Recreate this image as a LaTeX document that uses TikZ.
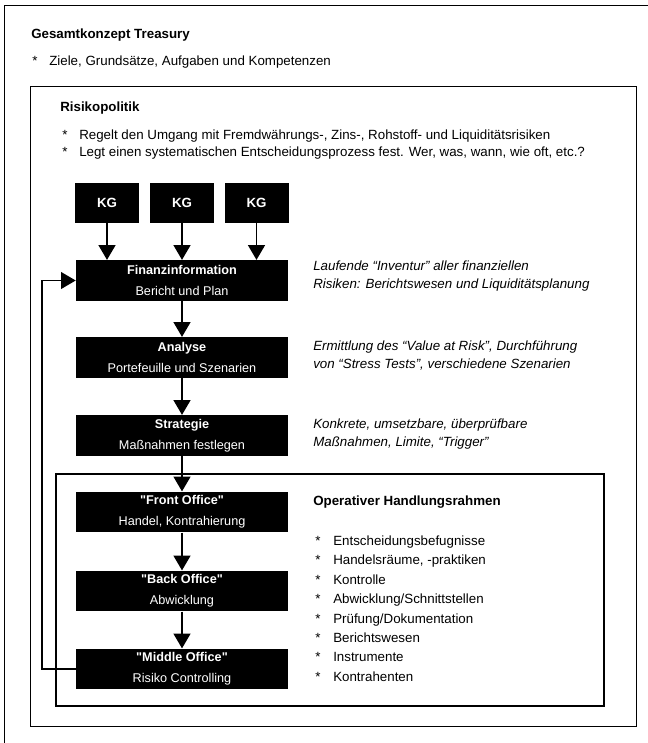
\documentclass[tikz,border=0pt]{standalone}
\usepackage{fontspec}
\setmainfont{Liberation Sans}
\usetikzlibrary{arrows.meta}

\begin{document}
\begin{tikzpicture}[x=0.75pt,y=-0.75pt,
    txt/.style={anchor=west,inner sep=0pt,align=left,font=\fontsize{10}{12.75}\selectfont},
    note/.style={anchor=west,inner sep=0pt,align=left,font=\itshape\fontsize{10}{13.5}\selectfont},
    list/.style={anchor=west,inner sep=0pt,align=left,font=\fontsize{10}{14.6}\selectfont},
    blackbox/.style={fill=black,text=white,inner sep=0pt,align=center,minimum width=159pt,minimum height=30.5pt,font=\fontsize{9.5}{15.75}\selectfont},
    kgbox/.style={fill=black,text=white,inner sep=0pt,minimum width=48pt,minimum height=30pt,font=\bfseries\fontsize{10}{12}\selectfont},
    flow/.style={line width=1.4pt,-{Triangle[length=11pt,width=12.5pt]}}]
    \useasboundingbox (0,0) rectangle (648,743);

    % frames
    \path[draw,line width=0.6pt] (4,743) -- (4,5) -- (648,5);
    \path[draw,line width=0.7pt] (30,86) rectangle (636,726);
    \path[draw,line width=1pt] (56,474) rectangle (604,706);

    % Gesamtkonzept
    \node[txt,font=\bfseries\fontsize{10}{12}\selectfont] (treasury) at (31,35) {Gesamtkonzept Treasury};
    \node[txt] (ziele) at (32,62) {\makebox[12.75pt][l]{*}Ziele, Grundsätze, Aufgaben und Kompetenzen};

    % Risikopolitik
    \node[txt,font=\bfseries\fontsize{10}{12}\selectfont] (risiko) at (60,108) {Risikopolitik};
    \node[txt] (regeln) at (62,144.5) {\makebox[12.75pt][l]{*}Regelt den Umgang mit Fremdwährungs-, Zins-, Rohstoff- und Liquiditätsrisiken\\
      \makebox[12.75pt][l]{*}Legt einen systematischen Entscheidungsprozess fest. Wer, was, wann, wie oft, etc.?};

    % KG boxes
    \node[kgbox] (kg1) at (107,203) {KG};
    \node[kgbox] (kg2) at (182,203) {KG};
    \node[kgbox] (kg3) at (256.5,203) {KG};

    % process boxes
    \node[blackbox] (fin) at (182,280.5) {\textbf{Finanzinformation}\\Bericht und Plan};
    \node[blackbox] (ana) at (182,357.5) {\textbf{Analyse}\\Portefeuille und Szenarien};
    \node[blackbox] (str) at (182,435.5) {\textbf{Strategie}\\Maßnahmen festlegen};
    \node[blackbox] (front) at (182,512) {\textbf{\textquotedbl Front Office\textquotedbl}\\Handel, Kontrahierung};
    \node[blackbox] (back) at (182,591) {\textbf{\textquotedbl Back Office\textquotedbl}\\Abwicklung};
    \node[blackbox] (mid) at (182,669) {\textbf{\textquotedbl Middle Office\textquotedbl}\\Risiko Controlling};

    % notes
    \node[note] (finnote) at (313,276) {Laufende “Inventur” aller finanziellen\\Risiken: Berichtswesen und Liquiditätsplanung};
    \node[note] (ananote) at (313,356) {Ermittlung des “Value at Risk”, Durchführung\\von “Stress Tests”, verschiedene Szenarien};
    \node[note] (strnote) at (313,434) {Konkrete, umsetzbare, überprüfbare\\Maßnahmen, Limite, “Trigger”};

    % Operativer Handlungsrahmen
    \node[txt,font=\bfseries\fontsize{10}{12}\selectfont] (oper) at (313,502) {Operativer Handlungsrahmen};
    \node[list] (operlist) at (315,608.5) {\makebox[13.5pt][l]{*}Entscheidungsbefugnisse\\
      \makebox[13.5pt][l]{*}Handelsräume, -praktiken\\
      \makebox[13.5pt][l]{*}Kontrolle\\
      \makebox[13.5pt][l]{*}Abwicklung/Schnittstellen\\
      \makebox[13.5pt][l]{*}Prüfung/Dokumentation\\
      \makebox[13.5pt][l]{*}Berichtswesen\\
      \makebox[13.5pt][l]{*}Instrumente\\
      \makebox[13.5pt][l]{*}Kontrahenten};

    % arrows
    \draw[flow] (kg1.south) -- (kg1.south |- fin.north);
    \draw[flow] (kg2.south) -- (kg2.south |- fin.north);
    \draw[flow] (kg3.south) -- (kg3.south |- fin.north);
    \draw[flow] (fin) -- (ana);
    \draw[flow] (ana) -- (str);
    \draw[flow] (str) -- (front);
    \draw[flow] (front) -- (back);
    \draw[flow] (back) -- (mid);
    % feedback
    \draw[flow] (mid.west) -- ++(-34,0) |- (fin.west);
\end{tikzpicture}
\end{document}
